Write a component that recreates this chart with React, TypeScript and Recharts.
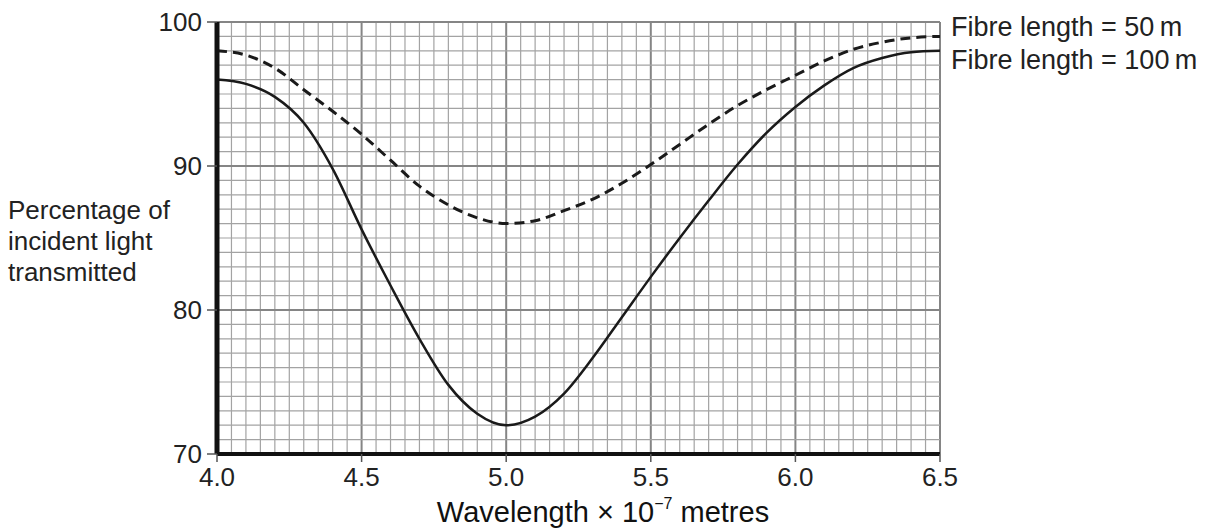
import React from 'react';
import { LineChart, Line, XAxis, YAxis, ReferenceLine } from 'recharts';

// Transmission vs wavelength for two fibre lengths
const wavelengths = [
  4.0, 4.1, 4.2, 4.3, 4.4, 4.5, 4.6, 4.7, 4.8, 4.9, 5.0, 5.1, 5.2,
  5.3, 5.4, 5.5, 5.6, 5.7, 5.8, 5.9, 6.0, 6.1, 6.2, 6.3, 6.4, 6.5,
];
const fibre50m = [
  98, 97.7, 96.8, 95.3, 93.8, 92.2, 90.4, 88.6, 87.3, 86.4, 86.0, 86.2, 86.9,
  87.7, 88.8, 90.1, 91.5, 92.9, 94.2, 95.3, 96.3, 97.3, 98.1, 98.6, 98.9, 99.0,
];
const fibre100m = [
  96, 95.7, 94.8, 93.0, 89.8, 85.6, 81.7, 78.0, 74.8, 72.8, 72.0, 72.6, 74.2,
  76.7, 79.5, 82.3, 85.0, 87.6, 90.1, 92.3, 94.1, 95.6, 96.8, 97.5, 97.9, 98.0,
];

const xTicks = [4.0, 4.5, 5.0, 5.5, 6.0, 6.5];
const yTicks = [70, 80, 90, 100];
const legendLabels = ['Fibre length = 50\u2009m', 'Fibre length = 100\u2009m'];
const yLabelLines = ['Percentage of', 'incident light', 'transmitted'];

// graph paper: 0.05 steps across, 1% steps up
const gridX = Array.from({ length: 51 }, (_, i) => Math.round((4 + i * 0.05) * 100) / 100);
const gridY = Array.from({ length: 31 }, (_, i) => 70 + i);

const data = wavelengths.map((w, i) => ({ w, p50: fibre50m[i], p100: fibre100m[i] }));

const FONT = '"Liberation Sans", Arial, Helvetica, sans-serif';

const isMajorX = (v: number) => Math.abs(v * 2 - Math.round(v * 2)) < 1e-6;

export default function App() {
  return (
    <div style={{ position: 'absolute', left: 0, top: 0, width: 1207, height: 528, background: '#fff', fontFamily: FONT }}>
      <LineChart width={1207} height={528} data={data} margin={{ top: 22, right: 267, left: 157, bottom: 44 }}>
        {gridX.map((v) => (
          <ReferenceLine
            key={'gx' + v}
            x={v}
            stroke={isMajorX(v) ? '#858585' : '#a3a3a3'}
            strokeWidth={isMajorX(v) ? 2 : 1.2}
          />
        ))}
        {gridY.map((v) => (
          <ReferenceLine
            key={'gy' + v}
            y={v}
            stroke={v % 10 === 0 ? '#858585' : '#a3a3a3'}
            strokeWidth={v % 10 === 0 ? 2 : 1.2}
          />
        ))}
        <XAxis
          dataKey="w"
          type="number"
          domain={[4, 6.5]}
          ticks={xTicks}
          tickFormatter={(v: number) => v.toFixed(1)}
          axisLine={{ stroke: '#111', strokeWidth: 4 }}
          tickLine={{ stroke: '#555', strokeWidth: 1.5 }}
          tickSize={8}
          tickMargin={6}
          tick={{ fill: '#222', fontSize: 26, fontFamily: FONT }}
          height={30}
        />
        <YAxis
          type="number"
          domain={[70, 100]}
          ticks={yTicks}
          axisLine={{ stroke: '#111', strokeWidth: 5 }}
          tickLine={{ stroke: '#555', strokeWidth: 1.5 }}
          tickSize={10}
          tickMargin={5}
          tick={{ fill: '#222', fontSize: 26, fontFamily: FONT }}
          width={60}
        />
        <Line
          dataKey="p50"
          type="monotone"
          stroke="#1a1a1a"
          strokeWidth={3}
          strokeDasharray="10 6"
          dot={false}
          isAnimationActive={false}
        />
        <Line
          dataKey="p100"
          type="monotone"
          stroke="#1a1a1a"
          strokeWidth={2.5}
          dot={false}
          isAnimationActive={false}
        />
      </LineChart>

      <div style={{ position: 'absolute', left: 951, top: 11, fontSize: 27, lineHeight: '33px', color: '#222', whiteSpace: 'nowrap' }}>
        {legendLabels.map((t) => (
          <div key={t}>{t}</div>
        ))}
      </div>

      <div style={{ position: 'absolute', left: 8, top: 195, fontSize: 26, lineHeight: '31px', color: '#222', whiteSpace: 'nowrap' }}>
        {yLabelLines.map((t) => (
          <div key={t}>{t}</div>
        ))}
      </div>

      <div style={{ position: 'absolute', left: 0, width: 1206, top: 496, textAlign: 'center', fontSize: 29, color: '#111', whiteSpace: 'nowrap' }}>
        Wavelength × 10<sup style={{ fontSize: 16, verticalAlign: 'top', position: 'relative', top: -1 }}>−7</sup> metres
      </div>
    </div>
  );
}
